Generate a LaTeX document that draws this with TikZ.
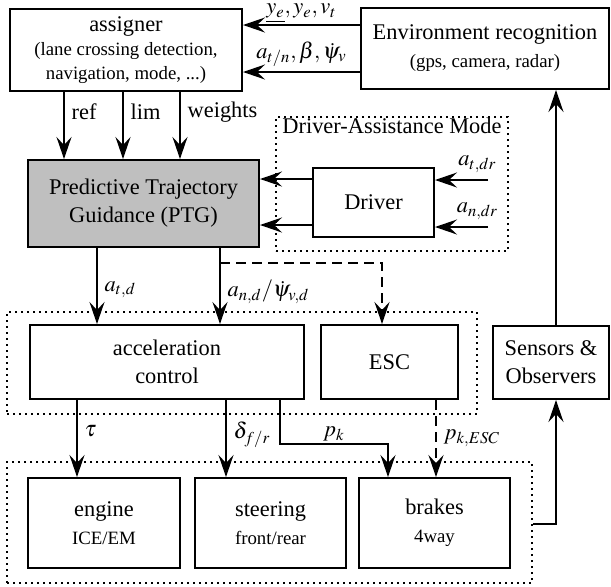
\documentclass[tikz,border=0pt]{standalone}
\usepackage{mathptmx}
\usepackage{fontspec}
\setmainfont{Liberation Serif}
\usetikzlibrary{positioning,arrows.meta}
\newcommand{\smalltxt}[1]{{\fontsize{9.4}{11}\selectfont #1}}

\begin{document}
\begin{tikzpicture}[
x=0.5pt, y=-0.5pt,
font=\fontsize{11.2}{14}\selectfont,
box/.style={draw, line width=1pt, align=center, inner sep=2pt, fill=white},
group/.style={draw, line width=1pt, dash pattern=on 1pt off 2pt, inner sep=0pt},
arrow/.style={-{Stealth[length=11pt, width=7.5pt, inset=4pt]}, line width=1pt},
dasharrow/.style={arrow, dash pattern=on 5pt off 3pt}
]
\useasboundingbox (0,0) rectangle (611,586);
% groups
\node[group, minimum width=116pt, minimum height=67pt] (damode) at (392,184) {};
\node[anchor=north, inner sep=1pt] (damlabel) at (damode.north) {Driver-Assistance Mode};
\node[group, minimum width=235pt, minimum height=51pt] (ctrl) at (242,363) {};
\node[group, minimum width=262.5pt, minimum height=60.5pt] (act) at (269.5,522.5) {};

% blocks
\node[box, minimum width=116pt, minimum height=41pt] (assign) at (126,50) {assigner\\[-2pt]\smalltxt{(lane crossing detection,}\\[-2pt]\smalltxt{navigation, mode, ...)}};
\node[box, minimum width=124pt, minimum height=40.5pt] (env) at (485,48.5) {Environment recognition\\\smalltxt{(gps, camera, radar)}};
\node[box, fill=black!25, minimum width=115.5pt, minimum height=43.5pt] (ptg) at (143.5,203.5) {Predictive Trajectory\\Guidance (PTG)};
\node[box, minimum width=60.5pt, minimum height=34.5pt] (driver) at (373.5,202.5) {Driver};
\node[box, minimum width=137pt, minimum height=37pt] (accel) at (167,362) {acceleration\\control};
\node[box, minimum width=68.5pt, minimum height=37pt] (esc) at (389.5,362) {ESC};
\node[box, minimum width=58pt, minimum height=36.5pt] (sens) at (551,362.5) {Sensors \&\\Observers};
\node[box, minimum width=76pt, minimum height=45pt] (engine) at (104,523) {engine\\\smalltxt{ICE/EM}};
\node[box, minimum width=75.5pt, minimum height=45pt] (steer) at (270.5,523) {steering\\\smalltxt{front/rear}};
\node[box, minimum width=75.5pt, minimum height=45pt] (brakes) at (434.5,523) {brakes\\\smalltxt{4way}};

% environment -> assigner
\draw[arrow] (env.west |- 0,25) -- node[above, inner sep=0.5pt]{$\underline{y_e}, y_e, v_t$} (assign.east |- 0,25);
\draw[arrow] (env.west |- 0,72) -- node[above, inner sep=2pt]{$a_{t/n}, \beta, \dot{\psi}_v$} (assign.east |- 0,72);

% assigner -> PTG
\draw[arrow] (assign.south -| 64,0) -- node[right, pos=0.3]{ref} (ptg.north -| 64,0);
\draw[arrow] (assign.south -| 123,0) -- node[right, pos=0.3]{lim} (ptg.north -| 123,0);
\draw[arrow] (assign.south -| 180,0) -- node[right, pos=0.3]{weights} (ptg.north -| 180,0);

% driver
\coordinate (atdr) at (488,180);
\coordinate (andr) at (488,227);
\draw[arrow] (atdr) -- node[above, pos=0.2]{$a_{t,dr}$} (driver.east |- atdr);
\draw[arrow] (andr) -- node[above, pos=0.2]{$a_{n,dr}$} (driver.east |- andr);
\draw[arrow] (driver.west |- 0,179) -- (ptg.east |- 0,179);
\draw[arrow] (driver.west |- 0,225) -- (ptg.east |- 0,225);

% PTG -> control
\draw[arrow] (ptg.south -| 97,0) -- node[right, pos=0.55]{$a_{t,d}$} (accel.north -| 97,0);
\draw[arrow] (ptg.south -| 220,0) -- node[right, pos=0.58]{$a_{n,d}/\dot{\psi}_{v,d}$} (accel.north -| 220,0);
\coordinate (split) at (220,263);
\draw[dasharrow] (split) -| (esc.north -| 382,0);

% control -> actuators
\draw[arrow] (accel.south -| 77,0) -- node[right, pos=0.4]{$\tau$} (engine.north -| 77,0);
\draw[arrow] (accel.south -| 226,0) -- node[right, pos=0.45]{$\delta_{f/r}$} (steer.north -| 226,0);
\draw[arrow] (accel.south -| 280,0) -- (280,444) -| node[above, pos=0.25, inner sep=1pt]{$p_k$} (brakes.north -| 388,0);
\draw[dasharrow] (esc.south -| 436,0) -- node[right, pos=0.5]{$p_{k,ESC}$} (brakes.north -| 436,0);

% feedback
\draw[arrow] (act.east |- 0,524) -| (sens.south -| 556,0);
\draw[arrow] (sens.north -| 556,0) -- (env.south -| 556,0);
\end{tikzpicture}
\end{document}
